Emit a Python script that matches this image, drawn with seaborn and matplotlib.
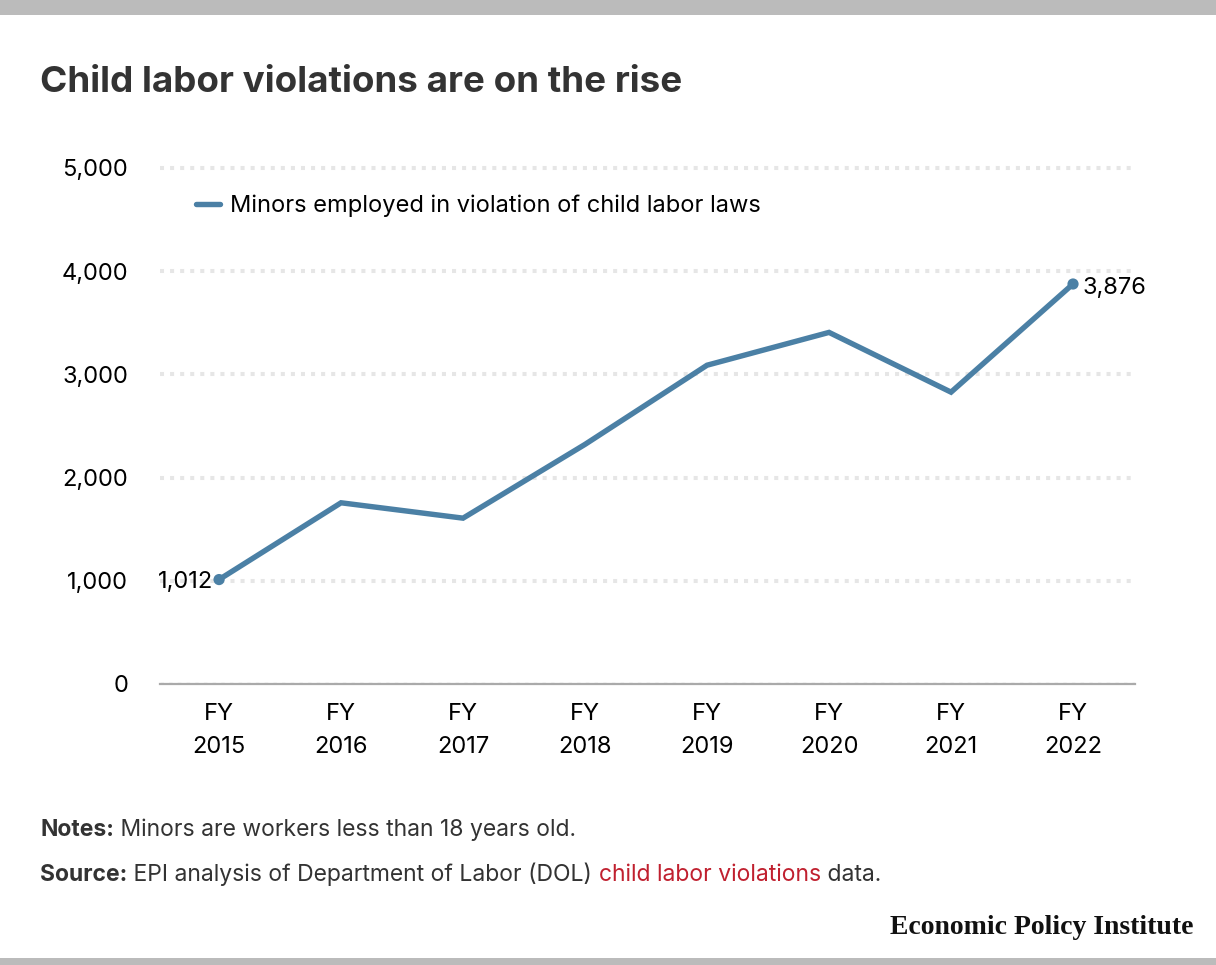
"""
Child labor violations chart (EPI style) recreated with seaborn/matplotlib.
"""

import pandas as pd
import matplotlib
matplotlib.use('Agg')
import matplotlib.pyplot as plt
from matplotlib.patches import Rectangle
import seaborn as sns

# Data
fiscal_years = ['2015', '2016', '2017', '2018', '2019', '2020', '2021', '2022']
minors_in_violation = [1012, 1756, 1607, 2322, 3089, 3407, 2828, 3876]
y_ticks = [0, 1000, 2000, 3000, 4000, 5000]
series_label = 'Minors employed in violation of child labor laws'

LINE_COLOR = '#4b80a5'
W, H = 1216, 965
FS = 17

sns.set_style("white")
plt.rcParams['font.family'] = ['Inter', 'DejaVu Sans']

df = pd.DataFrame({'pos': range(len(fiscal_years)),
                   'year': fiscal_years,
                   'count': minors_in_violation})

fig = plt.figure(figsize=(W / 100, H / 100), dpi=100)
fig.patch.set_facecolor('white')


def px(x, y):
    """Pixel coords (from top-left) to figure fraction."""
    return x / W, 1 - y / H


# Axes placed by pixel box
left, top = px(160, 168)
right, bottom = px(1135, 684)
ax = fig.add_axes([left, bottom, right - left, top - bottom])

sns.lineplot(data=df, x='pos', y='count', ax=ax, color=LINE_COLOR,
             linewidth=3.9, label=series_label, solid_joinstyle='miter')

# End point markers and labels
ends = df.iloc[[0, -1]]
sns.scatterplot(data=ends, x='pos', y='count', ax=ax, color=LINE_COLOR,
                s=65, edgecolor='none', legend=False, zorder=5)
first, last = df.iloc[0], df.iloc[-1]
ax.annotate(f"{first['count']:,}", (first['pos'], first['count']),
            xytext=(-4, -2), textcoords='offset points',
            ha='right', va='center', fontsize=FS, color='black')
ax.annotate(f"{last['count']:,}", (last['pos'], last['count']),
            xytext=(7, -3), textcoords='offset points',
            ha='left', va='center', fontsize=FS, color='black')

# Axes styling
ax.set_xlim(-0.484, 7.508)
ax.set_ylim(0, 5000)
ax.set_yticks(y_ticks)
ax.set_yticklabels([f'{v:,}' for v in y_ticks])
ax.set_xticks(df['pos'])
ax.set_xticklabels([f'FY\n{y}' for y in fiscal_years], linespacing=1.6)
ax.set_xlabel('')
ax.set_ylabel('')
for s in ['top', 'right', 'left']:
    ax.spines[s].set_visible(False)
ax.spines['bottom'].set_color('#aaaaaa')
ax.spines['bottom'].set_linewidth(1.6)
ax.spines['bottom'].set_zorder(3)

ax.tick_params(axis='y', length=0, pad=23, labelsize=FS, labelcolor='black')
ax.tick_params(axis='x', length=7, width=1.3, color='#aaaaaa', pad=7,
               labelsize=FS, labelcolor='black')

ax.grid(False)
for v in y_ticks[1:]:
    ax.axhline(v, color='#e6e6e6', linewidth=2.9, linestyle=(0, (1, 1.5)),
               zorder=0, clip_on=False)
ax.axhline(0, color='#e0e0e0', linewidth=2.5, linestyle=(0, (1, 1.5)), zorder=1)

# Legend
leg = ax.legend(loc='center left', bbox_to_anchor=px(196, 206),
                bbox_transform=fig.transFigure, frameon=False, fontsize=FS,
                handlelength=1.0, handletextpad=0.42, borderpad=0,
                borderaxespad=0)
for t in leg.get_texts():
    t.set_color('black')

# Title
fig.text(*px(40, 83), 'Child labor violations are on the rise',
         fontsize=26.5, fontweight='bold', color='#333333', va='center', ha='left')

# Top and bottom bars
fig.patches.append(Rectangle(px(0, 15), 1, 15 / H, transform=fig.transFigure,
                             facecolor='#bbbbbb', edgecolor='none'))
fig.patches.append(Rectangle((0, 0), 1, 7 / H, transform=fig.transFigure,
                             facecolor='#bbbbbb', edgecolor='none'))

# Notes / source with mixed styles
fig.canvas.draw()
renderer = fig.canvas.get_renderer()


def rich_line(x_px, y_px, pieces, size=16.5):
    x = x_px
    for text, weight, color in pieces:
        t = fig.text(x / W, 1 - y_px / H, text, fontsize=size,
                     fontweight=weight, color=color, va='baseline', ha='left')
        x += t.get_window_extent(renderer=renderer).width


rich_line(40, 836, [('Notes:', 'bold', '#333333'),
                    (' Minors are workers less than 18 years old.', 'normal', '#333333')])
rich_line(40, 881, [('Source:', 'bold', '#333333'),
                    (' EPI analysis of Department of Labor (DOL) ', 'normal', '#333333'),
                    ('child labor violations', 'normal', '#c0202f'),
                    (' data.', 'normal', '#333333')])

fig.text(*px(1193, 934), 'Economic Policy Institute', fontsize=20,
         fontweight='bold', family=['Liberation Serif', 'DejaVu Serif'],
         color='#111111', ha='right', va='baseline')

fig.savefig('out.png', dpi=100, facecolor='white')
